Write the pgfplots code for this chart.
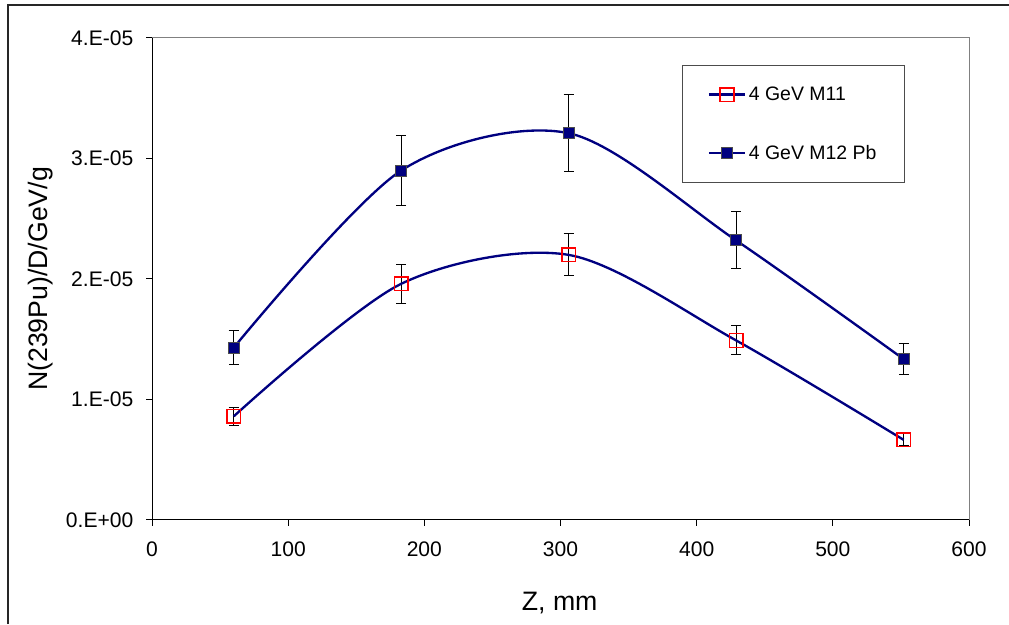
\documentclass[border=0pt]{standalone}
\usepackage{pgfplots}
\pgfplotsset{compat=1.18}
\usepackage{fontspec}
\setmainfont{Liberation Sans}

\definecolor{navyline}{RGB}{0,0,128}
\definecolor{markred}{RGB}{255,0,0}

\pgfplotsset{
  errbar/.style={
      draw=none,
      mark=none,
      forget plot,
      error bars/.cd,
      y dir=both,
      y explicit,
      error bar style={draw=black, line width=0.75pt},
      error mark options={rotate=90, mark size=3.75pt, draw=black, line width=0.75pt},
    },
  curve/.style={
      navyline,
      line width=1.75pt,
      smooth,
      tension=0.5,
      mark=none,
      forget plot,
    },
  m11 mark/.style={
      only marks,
      mark=square,
      mark size=5.1pt,
      mark options={draw=markred, fill=none, line width=1.1pt, solid},
      forget plot,
    },
  m12 mark/.style={
      only marks,
      mark=square*,
      mark size=4.1pt,
      mark options={draw=black!70, fill=navyline, line width=0.75pt, solid},
      forget plot,
    },
}

\begin{document}
\begin{tikzpicture}
  % fixed page size, 1009x624 px at 0.75pt/px
  \useasboundingbox (0pt,0pt) rectangle (756.75pt,468pt);

  % chart area frame (top and left visible)
  \draw[line width=1.5pt, black!85] (6pt,0pt) -- (6pt,464.25pt) -- (756.75pt,464.25pt);

  \begin{axis}[
      at={(114pt,78pt)},
      anchor=south west,
      scale only axis,
      width=612.75pt,
      height=361.5pt,
      xmin=0, xmax=600,
      ymin=0, ymax=4e-5,
      xtick={0,100,200,300,400,500,600},
      ytick={0,1e-5,2e-5,3e-5,4e-5},
      yticklabels={0.E+00,1.E-05,2.E-05,3.E-05,4.E-05},
      scaled y ticks=false,
      xtick pos=bottom,
      ytick pos=left,
      tick align=outside,
      major tick length=4.5pt,
      tick style={black, line width=0.75pt},
      axis line style={draw=black!50, line width=0.75pt},
      tick label style={font=\fontsize{15.8}{18}\selectfont},
      /pgf/number format/assume math mode=true,
      xticklabel style={yshift=-8pt},
      yticklabel style={xshift=-6pt},
      xlabel={Z, mm},
      ylabel={N(239Pu)/D/GeV/g},
      label style={font=\fontsize{20}{24}\selectfont},
      xlabel style={at={(axis description cs:0.499,-0.172)}, anchor=center},
      ylabel style={at={(axis description cs:-0.136,0.5)}, anchor=center},
      legend style={
          at={(0.6487,0.944)},
          anchor=north west,
          draw=black!70,
          line width=0.75pt,
          font=\fontsize{14.6}{17}\selectfont,
          row sep=28pt,
          inner xsep=19pt,
          inner ysep=14pt,
          cells={anchor=west},
        },
      clip=false,
    ]

    % error bars
    \addplot[errbar] coordinates {
        (60,0.860e-5)  +- (0,0.075e-5)
        (183,1.960e-5) +- (0,0.160e-5)
        (306,2.200e-5) +- (0,0.175e-5)
        (429,1.490e-5) +- (0,0.120e-5)
        (552,0.665e-5) +- (0,0.050e-5)
      };
    \addplot[errbar] coordinates {
        (60,1.430e-5)  +- (0,0.140e-5)
        (183,2.900e-5) +- (0,0.290e-5)
        (306,3.210e-5) +- (0,0.320e-5)
        (429,2.320e-5) +- (0,0.237e-5)
        (552,1.335e-5) +- (0,0.130e-5)
      };

    % smoothed lines
    \addplot[curve] coordinates {
        (60,0.860e-5) (183,1.960e-5) (306,2.200e-5) (429,1.490e-5) (552,0.665e-5)
      };
    \addplot[curve] coordinates {
        (60,1.430e-5) (183,2.900e-5) (306,3.210e-5) (429,2.320e-5) (552,1.335e-5)
      };

    % markers
    \addplot[m11 mark] coordinates {
        (60,0.860e-5) (183,1.960e-5) (306,2.200e-5) (429,1.490e-5) (552,0.665e-5)
      };
    \addplot[m12 mark] coordinates {
        (60,1.430e-5) (183,2.900e-5) (306,3.210e-5) (429,2.320e-5) (552,1.335e-5)
      };

    % legend
    \addlegendimage{
      legend image code/.code={
          \draw[navyline, line width=1.75pt] (0pt,0pt) -- (27pt,0pt);
          \draw[markred, line width=1.1pt] (8.4pt,-5.1pt) rectangle (18.6pt,5.1pt);
        }
    }
    \addlegendentry{4 GeV M11}
    \addlegendimage{
      legend image code/.code={
          \draw[navyline, line width=1.75pt] (0pt,0pt) -- (27pt,0pt);
          \draw[black!70, fill=navyline, line width=0.75pt] (9.4pt,-4.1pt) rectangle (17.6pt,4.1pt);
        }
    }
    \addlegendentry{4 GeV M12 Pb}

    % black value axes over the grey plot-area border
    \draw[black, line width=0.75pt] (rel axis cs:0,1) -- (rel axis cs:0,0) -- (rel axis cs:1,0);
  \end{axis}
\end{tikzpicture}
\end{document}
